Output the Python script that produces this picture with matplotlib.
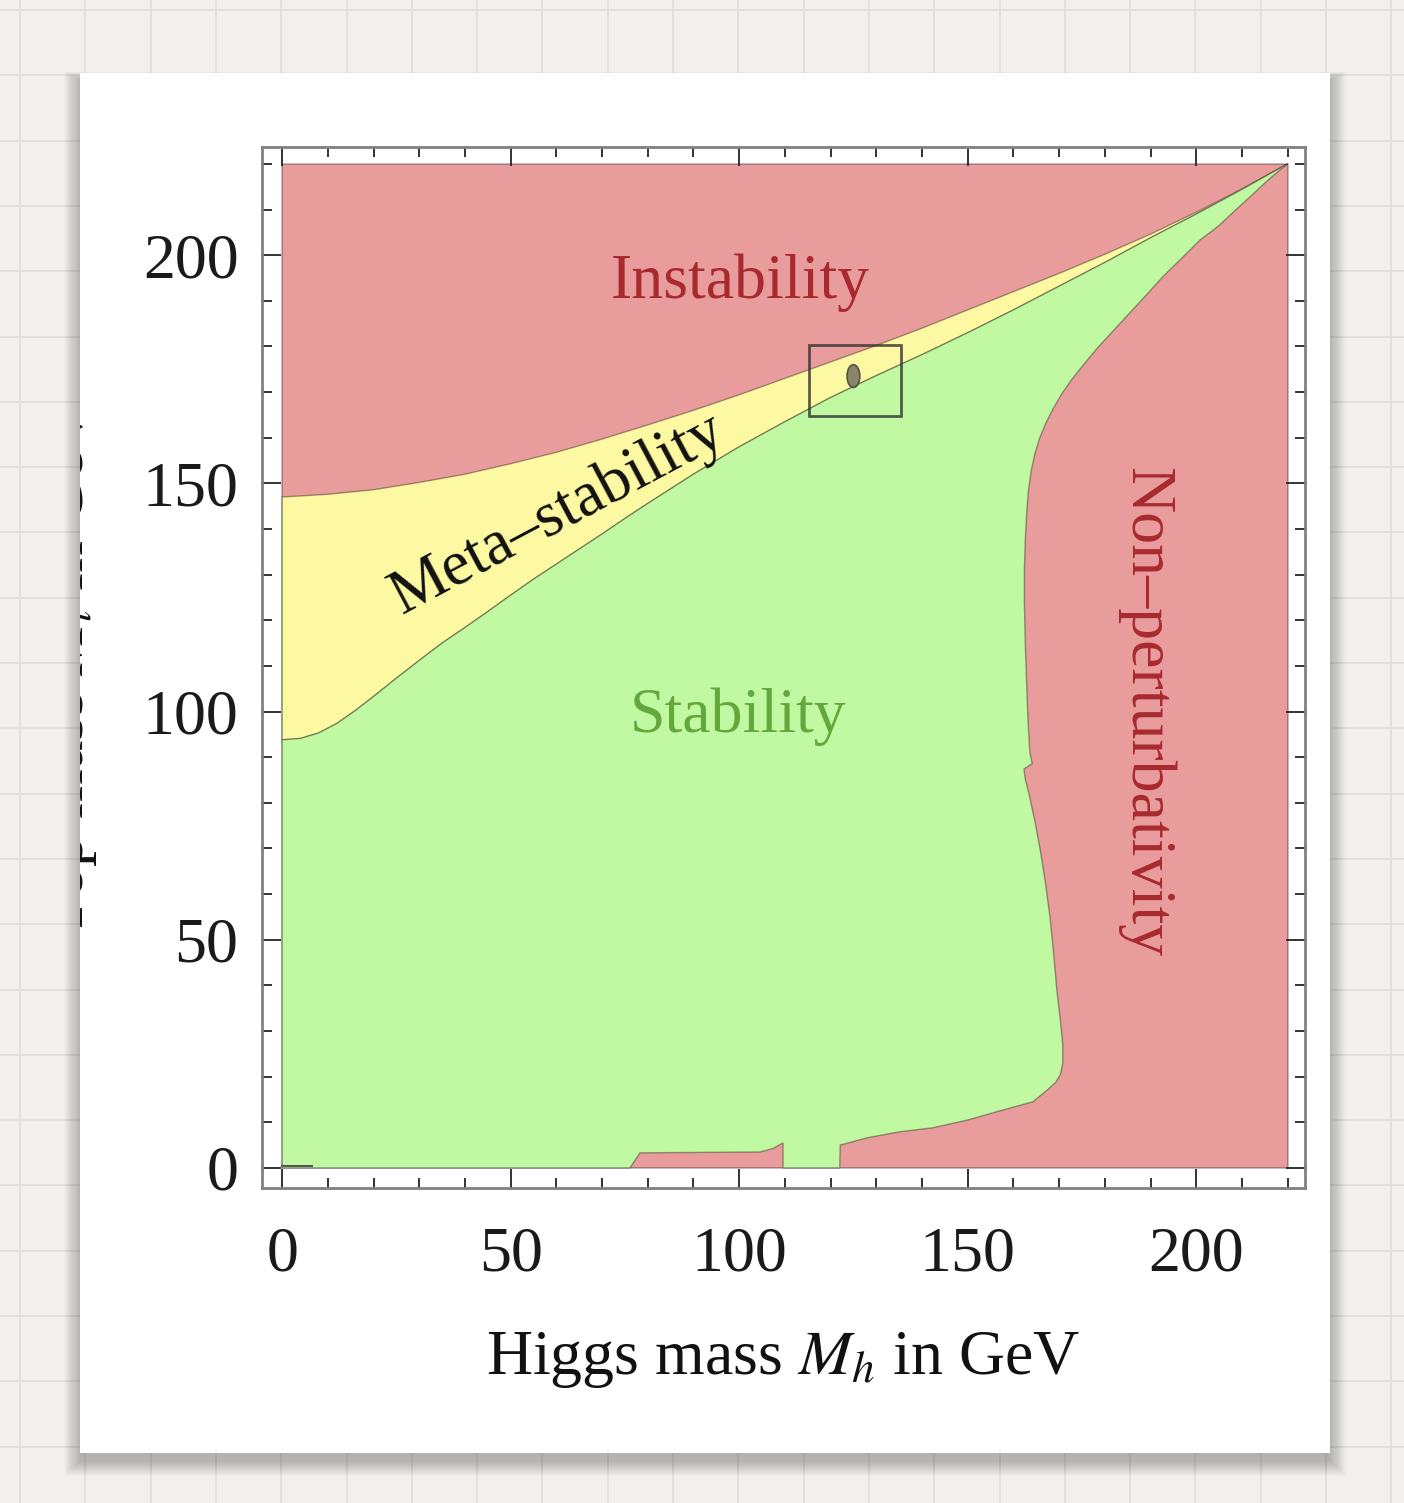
"""
Vacuum stability phase diagram (Higgs mass vs top mass), screenshot style.
"""

import numpy as np
import matplotlib.pyplot as plt
from matplotlib.patches import Rectangle, Polygon, Ellipse

plt.rcParams['font.family'] = ['Liberation Serif', 'DejaVu Serif']
plt.rcParams['mathtext.fontset'] = 'stix'

# -----------------------------
# Data (GeV)
# -----------------------------
# instability / meta-stability boundary
upper_mh = [0, 10, 20, 30, 40, 50, 60, 70, 80, 90, 100, 110, 120, 130, 140,
            150, 160, 170, 180, 190, 200, 210, 220]
upper_mt = [147.0, 147.6, 148.6, 150.2, 152.0, 154.3, 156.8, 159.7, 162.8,
            166.0, 169.4, 173.0, 176.6, 180.2, 184.0, 188.0, 192.0, 196.0,
            200.2, 204.6, 209.4, 214.5, 220.0]

# meta-stability / stability boundary
lower_mh = [0, 4, 8, 12, 16, 20, 25, 30, 35, 40, 45, 50, 55, 60, 65, 70, 75,
            80, 85, 90, 100, 110, 120, 130, 140, 150, 160, 170, 180, 190, 200,
            210, 220]
lower_mt = [93.8, 94.1, 95.3, 97.4, 100.2, 103.3, 107.3, 111.2, 115.0, 118.4,
            121.9, 125.5, 129.0, 132.3, 135.6, 138.9, 142.3, 145.6, 148.8,
            152.0, 158.0, 163.5, 168.8, 173.6, 178.2, 183.0, 188.0, 193.2,
            198.4, 203.8, 209.0, 214.4, 220.0]

# stability / non-perturbativity boundary, from the top corner downwards
right_mh = [220, 217.5, 215.0, 211.8, 208.5, 205, 200.8, 197, 193, 189,
            185.5, 182, 178.5, 175.5, 172.8, 170.5, 168.6, 167.0, 165.7,
            164.7, 163.9, 163.3, 162.9, 162.6, 162.4, 162.4, 162.6, 162.9,
            163.2, 163.6, 164.1, 162.3, 162.6, 163.4, 164.7, 165.9, 167.0,
            168.0, 168.8, 169.5, 170.3, 170.8, 170.8, 170.3, 169.3, 167.8,
            164.3, 157, 150, 142.4, 135, 128, 122.1, 122.0]
right_mt = [220, 218.0, 215.8, 212.8, 209.8, 206.5, 203.3, 199.5, 195.6,
            191.2, 187.4, 183.6, 179.8, 176.2, 172.8, 169.5, 166.2, 163.0,
            159.8, 156.5, 152.8, 148.5, 143.5, 137.5, 131, 124, 115, 106, 98,
            91, 88.6, 87.4, 85.2, 82, 76, 69.5, 62.5, 55, 47, 39, 32, 27, 23,
            20.5, 18.8, 17.4, 14.5, 12.5, 10.5, 8.8, 7.9, 6.6, 5.0, 0]

# small unstable patch at the bottom
bump_mh = [109.6, 109.6, 107.5, 104.6, 78.3, 76.1]
bump_mt = [0, 5.5, 4.3, 3.5, 3.3, 0]

sliver_mh = [0, 6.5]
sliver_mt = [0.4, 0.4]

# measured point and its box
point_mh, point_mt = 125.0, 173.5
box_mh = [115.2, 135.3]
box_mt = [164.8, 180.4]

ticks = [0, 50, 100, 150, 200]
minor_ticks = list(range(0, 221, 10))

RED = '#e89c9c'
YELLOW = '#fdf8a2'
GREEN = '#c0f9a2'
DARKRED = '#a82a2e'
LEAF = '#64a83c'

# -----------------------------
# Page: grid paper + white card
# -----------------------------
W, H = 1404, 1503
fig = plt.figure(figsize=(W / 100, H / 100), dpi=100)

bg = fig.add_axes([0, 0, 1, 1])
bg.set_xlim(0, W)
bg.set_ylim(H, 0)
bg.axis('off')
bg.add_patch(Rectangle((0, 0), W, H, color='#f1f0ed', zorder=0))
for x in np.arange(20, W, 65.3):
    bg.axvline(x, color='#e0dfdb', lw=1.3, zorder=1)
for y in np.arange(10, H, 65.3):
    bg.axhline(y, color='#e0dfdb', lw=1.3, zorder=1)

# soft drop shadow, a little lower than the card
for i in range(16):
    bg.add_patch(Rectangle((80 - 1.1 * i, 73 - 0.5 * i + 6), 1250 + 2.2 * i,
                           1380 + 1.5 * i + 2, color='k', alpha=0.014, lw=0,
                           zorder=2))
card = Rectangle((80, 73), 1250, 1380, facecolor='white', lw=0, zorder=3)
bg.add_patch(card)

ylab = bg.text(99, 670, 'Top mass $M_t$ in GeV', rotation=90, ha='right',
               va='center', fontsize=46, color='#111111', zorder=4, clip_on=True)
ylab.set_clip_path(card)

# -----------------------------
# Region plot
# -----------------------------
ax = fig.add_axes([262 / W, 1 - 1188 / H, (1305 - 262) / W, (1188 - 147) / H])
ax.set_xlim(-4.4, 223.8)
ax.set_ylim(-4.4, 223.7)
ax.set_facecolor('white')

ax.add_patch(Rectangle((0, 0), 220, 220, fc=RED, ec=(0, 0, 0, 0.3), lw=1.2))

band = np.column_stack([upper_mh + lower_mh[::-1], upper_mt + lower_mt[::-1]])
ax.add_patch(Polygon(band, fc=YELLOW, ec=(0, 0, 0, 0.35), lw=1.0))

stab_x = [0] + lower_mh + right_mh + bump_mh
stab_y = [0] + lower_mt + right_mt + bump_mt
ax.add_patch(Polygon(np.column_stack([stab_x, stab_y]), fc=GREEN,
                     ec=(0, 0, 0, 0.35), lw=1.0))

ax.plot(sliver_mh, sliver_mt, color='#555555', lw=1.5)

ax.add_patch(Rectangle((box_mh[0], box_mt[0]), box_mh[1] - box_mh[0],
                       box_mt[1] - box_mt[0], fill=False, ec='#333333',
                       lw=2.0, alpha=0.8))
ax.add_patch(Ellipse((point_mh, point_mt), 2.8, 5.0, fc='#7a7a66',
                     ec='#4a4a40', lw=1.2, alpha=0.9))

ax.text(100.2, 194, 'Instability', color=DARKRED, fontsize=46,
        ha='center', va='center')
ax.text(99.8, 98.8, 'Stability', color=LEAF, fontsize=46,
        ha='center', va='center')
ax.text(60.2, 143.1, 'Meta\u2013stability', color='#111111', fontsize=46,
        ha='center', va='center', rotation=28, rotation_mode='anchor')
ax.text(188.8, 99.9, 'Non\u2013perturbativity', color=DARKRED, fontsize=46,
        ha='center', va='center', rotation=-90)

ax.set_xticks(ticks)
ax.set_yticks(ticks)
ax.set_xticks(minor_ticks, minor=True)
ax.set_yticks(minor_ticks, minor=True)
ax.tick_params(which='both', direction='in', top=True, right=True,
               color='#333333', width=1.4)
ax.tick_params(which='major', length=14, labelsize=46, labelcolor='#1a1a1a')
ax.tick_params(which='minor', length=7)
ax.tick_params(axis='x', pad=28)
ax.tick_params(axis='y', pad=17)
for s in ax.spines.values():
    s.set_color('#808080')
    s.set_linewidth(2.0)

fig.text(783 / W, 1 - 1360 / H, 'Higgs mass $M_h$ in GeV', fontsize=46,
         ha='center', va='center', color='#111111')

fig.savefig('out.png', dpi=100)
